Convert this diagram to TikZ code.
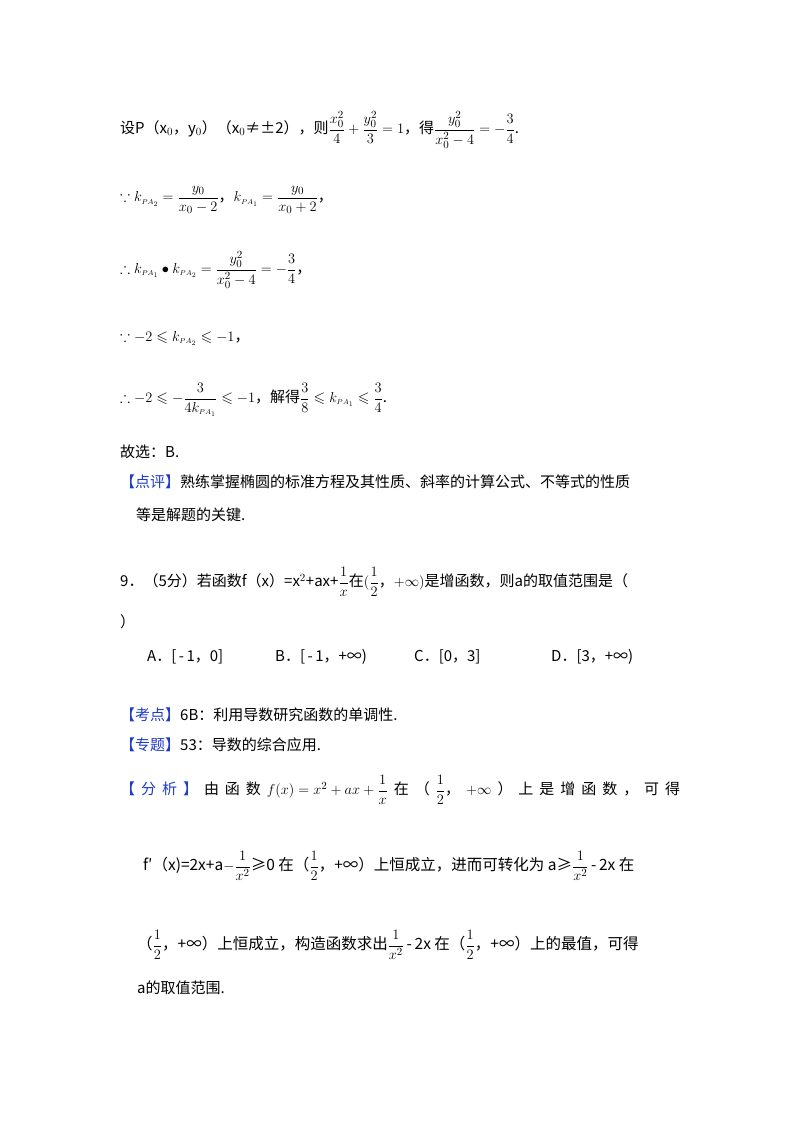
\documentclass[tikz,border=0pt]{standalone}
\usepackage{amsmath,amssymb}
\usepackage{fontspec}
\setmainfont{Noto Sans CJK SC}
\definecolor{lblue}{RGB}{30,60,200}
\newcommand{\lab}[1]{\textcolor{lblue}{【#1】}}
\newcommand{\kk}[1]{k_{\scriptscriptstyle PA_{#1}}}
\begin{document}
\begin{tikzpicture}[x=1pt,y=-1pt,every node/.style={anchor=west,inner sep=0pt,font=\fontsize{15}{18}\selectfont}]
\useasboundingbox[fill=white] (0,0) rectangle (800,1132);
\node (l1) at (120,130) {设P（x$_0$，y$_0$）（x$_0$≠±2），则$\dfrac{x_0^2}{4}+\dfrac{y_0^2}{3}=1$，得$\dfrac{y_0^2}{x_0^2-4}=-\dfrac{3}{4}$.};
\node (l2) at (120,200) {$\because \kk{2}=\dfrac{y_0}{x_0-2}$，$\kk{1}=\dfrac{y_0}{x_0+2}$，};
\node (l3) at (120,270) {$\therefore \kk{1}\bullet\kk{2}=\dfrac{y_0^2}{x_0^2-4}=-\dfrac{3}{4}$，};
\node (l4) at (120,338) {$\because -2\leqslant \kk{2}\leqslant -1$，};
\node (l5) at (120,400) {$\therefore -2\leqslant -\dfrac{3}{4\kk{1}}\leqslant -1$，解得$\dfrac{3}{8}\leqslant \kk{1}\leqslant\dfrac{3}{4}$.};
\node (l6) at (120,452) {故选：B.};
\node (l7) at (120,482) {\lab{点评}熟练掌握椭圆的标准方程及其性质、斜率的计算公式、不等式的性质};
\node (l8) at (136,515) {等是解题的关键.};
\node (l9) at (120,582) {9．（5分）若函数f（x）=x$^2$+ax+$\dfrac{1}{x}$在$(\dfrac{1}{2}$，$+\infty)$是增函数，则a的取值范围是（};
\node (l10) at (120,622) {）};
\node (oa) at (147,657) {A．[\,-\,1，0]};
\node (ob) at (275,657) {B．[\,-\,1，+∞)};
\node (oc) at (414,657) {C．[0，3]};
\node (od) at (551,657) {D．[3，+∞)};
\node (l11) at (120,715) {\lab{考点}6B：利用导数研究函数的单调性.};
\node (l12) at (120,745) {\lab{专题}53：导数的综合应用.};
\node (l13) at (120,790) {\hbox to 560pt{\textcolor{lblue}{【\hfill 分\hfill 析\hfill 】}\hfill 由\hfill 函\hfill 数\hfill $f(x)=x^2+ax+\dfrac{1}{x}$\hfill 在\hfill （\hfill $\dfrac{1}{2}$，\hfill $+\infty$\hfill ）\hfill 上\hfill 是\hfill 增\hfill 函\hfill 数\hfill ，\hfill 可\hfill 得}};
\node (l14) at (143,866) {\fontsize{15.5}{18}\selectfont f′（x)=2x+a$-\dfrac{1}{x^2}$≥0 在（$\dfrac{1}{2}$，+∞）上恒成立，进而可转化为 a≥$\dfrac{1}{x^2}$\,-\,2x 在};
\node (l15) at (137,945) {\fontsize{15.5}{18}\selectfont （$\dfrac{1}{2}$，+∞）上恒成立，构造函数求出$\dfrac{1}{x^2}$\,-\,2x 在（$\dfrac{1}{2}$，+∞）上的最值，可得};
\node (l16) at (137,988) {a的取值范围.};
\end{tikzpicture}
\end{document}
